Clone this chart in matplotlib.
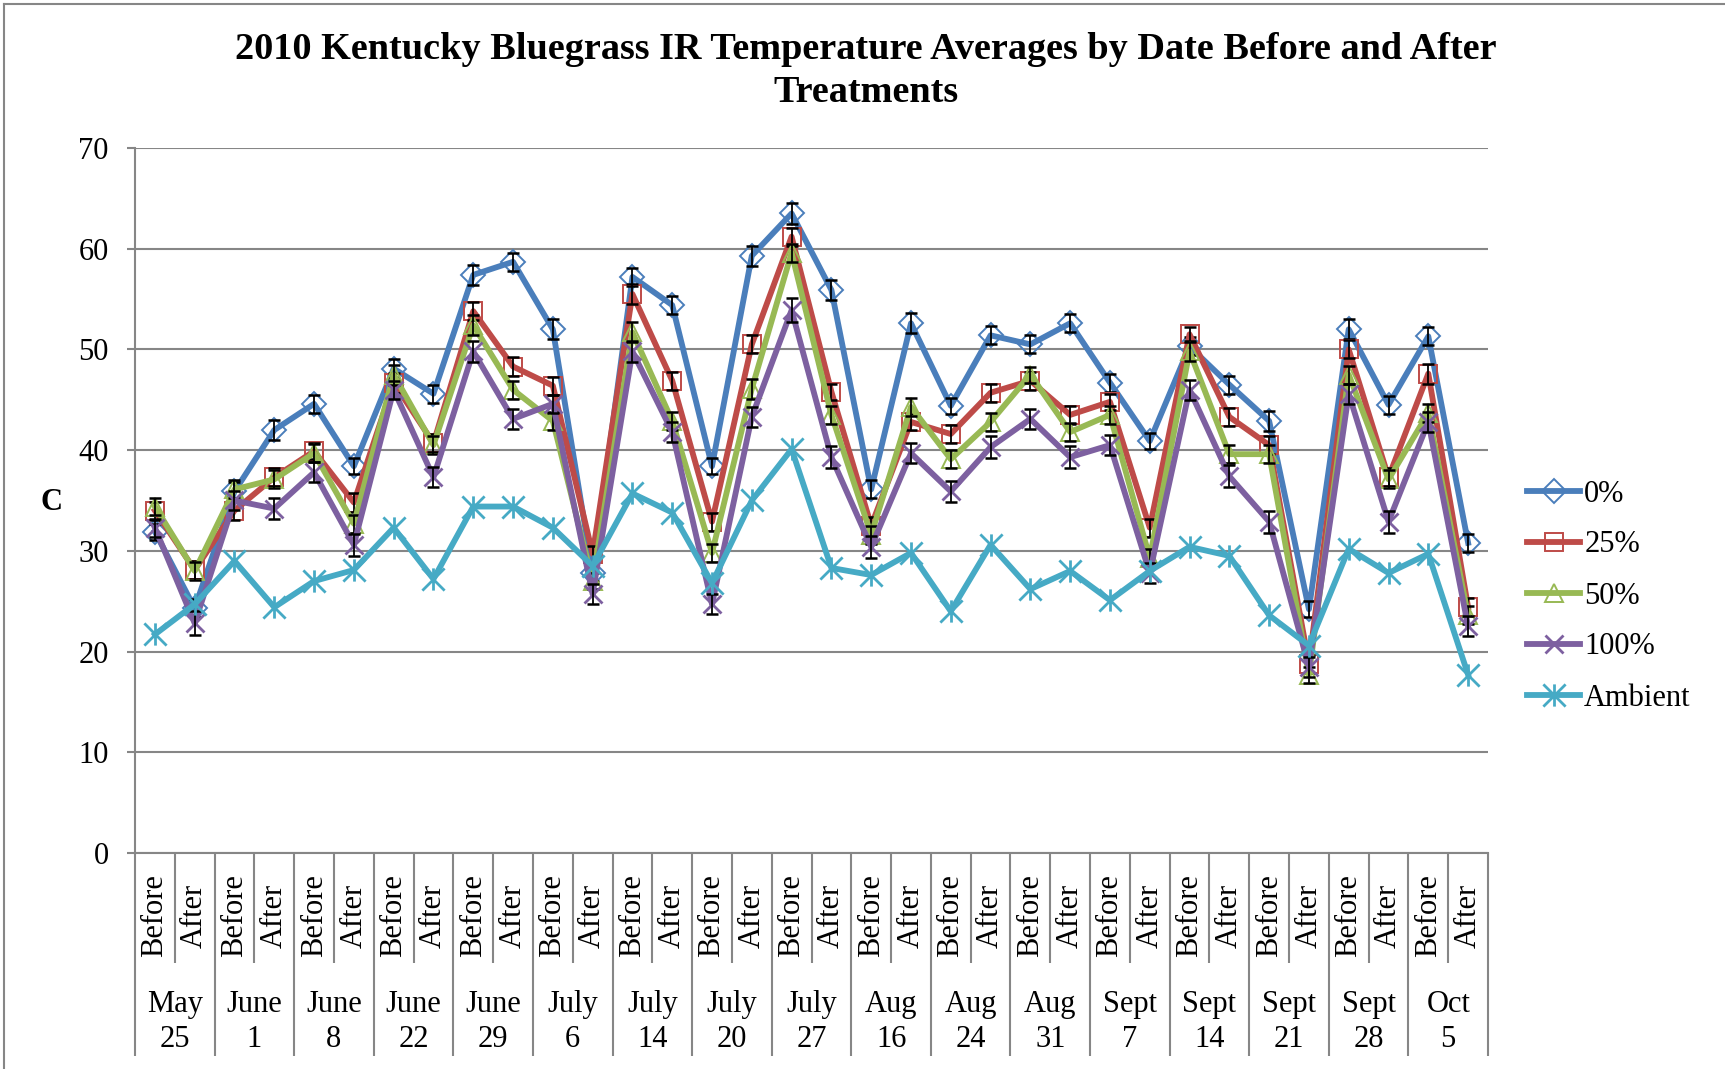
import numpy as np
import matplotlib
matplotlib.use("Agg")
import matplotlib.pyplot as plt
from matplotlib.path import Path
from matplotlib.lines import Line2D

plt.rcParams['font.family'] = ['Liberation Serif', 'DejaVu Serif']

dates = ["May\n25", "June\n1", "June\n8", "June\n22", "June\n29", "July\n6", "July\n14",
         "July\n20", "July\n27", "Aug\n16", "Aug\n24", "Aug\n31", "Sept\n7", "Sept\n14",
         "Sept\n21", "Sept\n28", "Oct\n5"]
phases = ["Before", "After"]

# IR canopy temperature (C), Before/After pairs per date
t0 = [31.9, 24.3, 35.9, 42.0, 44.6, 38.4, 48.1, 45.6, 57.4, 58.7, 52.0, 27.8,
      57.2, 54.4, 38.4, 59.3, 63.5, 55.9, 36.1, 52.6, 44.4, 51.4, 50.5, 52.6,
      46.7, 40.9, 50.3, 46.5, 42.9, 24.2, 52.0, 44.5, 51.3, 30.8]
t25 = [34.0, 28.1, 34.0, 37.3, 39.9, 34.8, 46.7, 40.7, 53.8, 48.3, 46.4, 29.7,
       55.5, 46.9, 32.9, 50.5, 61.2, 45.8, 32.5, 42.8, 41.6, 45.7, 46.9, 43.5,
       44.8, 32.3, 51.5, 43.3, 40.5, 18.8, 50.0, 37.3, 47.6, 24.4]
t50 = [34.4, 28.0, 36.1, 37.1, 39.7, 32.7, 47.5, 40.5, 52.4, 46.0, 42.9, 27.0,
       51.7, 42.9, 29.8, 46.1, 59.6, 43.5, 31.6, 44.3, 39.1, 42.8, 47.5, 41.8,
       43.5, 29.3, 49.8, 39.6, 39.6, 17.7, 47.5, 37.1, 43.7, 23.6]
t100 = [32.3, 22.8, 35.0, 34.2, 37.8, 30.6, 46.0, 37.3, 49.8, 43.1, 44.6, 25.7,
        49.8, 41.8, 24.7, 43.3, 53.9, 39.3, 30.4, 39.7, 35.9, 40.3, 43.1, 39.3,
        40.5, 27.8, 46.0, 37.4, 32.9, 18.5, 45.6, 32.9, 42.8, 22.5]
ambient = [21.7, 24.7, 29.0, 24.4, 27.0, 28.1, 32.3, 27.2, 34.4, 34.4, 32.3, 28.5,
           35.7, 33.8, 26.8, 35.0, 40.1, 28.3, 27.6, 29.8, 24.0, 30.6, 26.2, 28.0,
           25.1, 28.0, 30.4, 29.5, 23.6, 20.6, 30.2, 27.8, 29.7, 17.7]

# standard errors
e0 = [0.8, 0.9, 0.9, 1.0, 0.9, 0.8, 0.9, 0.9, 1.0, 0.9, 1.0, 0.8,
      0.9, 0.9, 0.8, 1.0, 1.0, 1.0, 0.9, 1.0, 0.8, 0.9, 0.9, 0.9,
      0.9, 0.8, 0.9, 0.9, 1.0, 0.8, 1.0, 0.9, 0.9, 0.9]
e25 = [0.9, 0.9, 0.9, 0.9, 0.8, 0.9, 1.0, 0.9, 0.9, 0.9, 0.9, 0.8,
       1.0, 0.9, 0.9, 0.9, 0.9, 0.8, 0.9, 0.8, 0.9, 0.9, 0.9, 0.9,
       0.8, 0.9, 0.7, 0.9, 0.9, 0.9, 0.9, 0.9, 1.0, 0.9]
e50 = [0.8, 0.9, 0.9, 0.9, 0.9, 0.9, 1.0, 0.9, 1.0, 0.9, 0.9, 0.8,
       1.0, 0.9, 0.9, 1.0, 0.9, 0.9, 0.9, 0.9, 0.9, 0.9, 0.8, 0.9,
       0.9, 0.9, 0.9, 0.9, 0.9, 0.8, 0.9, 0.9, 0.9, 0.9]
e100 = [0.9, 1.2, 0.9, 1.0, 1.0, 1.1, 0.9, 1.0, 1.0, 1.0, 0.9, 1.0,
        1.0, 1.0, 1.0, 1.0, 1.2, 1.1, 1.1, 1.0, 1.0, 1.1, 1.0, 1.1,
        1.0, 1.0, 1.0, 1.1, 1.1, 1.0, 1.0, 1.1, 1.0, 1.0]

labels = ["0%", "25%", "50%", "100%", "Ambient"]
colors = ["#4A7EBB", "#BE4B48", "#98B954", "#7D60A0", "#46AAC5"]

# asterisk marker: X plus a vertical stroke
star = Path([(0, -1), (0, 1), (-1, -1), (1, 1), (-1, 1), (1, -1)],
            [Path.MOVETO, Path.LINETO] * 3)
markers = ["D", "s", "^", "x", star]
msizes = [12, 13, 13, 13, 16]

grid_c = "#868686"
x = np.arange(len(t0))

fig = plt.figure(figsize=(17.25, 10.69), dpi=100)
ax = fig.add_axes([135/1725, 1 - 853/1069, (1488 - 135)/1725, (853 - 148)/1069])

series = [t0, t25, t50, t100, ambient]
errs = [e0, e25, e50, e100, None]
for k, (vals, err) in enumerate(zip(series, errs)):
    ax.plot(x, vals, color=colors[k], lw=4.2, marker=markers[k], ms=msizes[k],
            mfc="none", mec=colors[k], mew=1.4 if k < 3 else 2.0,
            label=labels[k], zorder=3 + k, clip_on=False)
    if err is not None:
        ax.errorbar(x, vals, yerr=err, fmt="none", ecolor="black", elinewidth=1.3,
                    capsize=4.5, capthick=1.8, zorder=3.5 + k)

ax.set_ylim(0, 70)
ax.set_xlim(-0.5, len(x) - 0.5)
ax.set_yticks(np.arange(0, 71, 10))
ax.yaxis.grid(True, color=grid_c, lw=1.5)
ax.set_axisbelow(True)
for s in ["top", "right"]:
    ax.spines[s].set_visible(False)
for s in ["left", "bottom"]:
    ax.spines[s].set_color(grid_c)
    ax.spines[s].set_linewidth(1.5)
ax.spines["left"].set_bounds(0, 70)
ax.tick_params(axis="y", length=6, width=1.5, color=grid_c, pad=13, labelsize=22)

# category separators: short between Before/After, long between dates
ax.set_xticks(np.arange(-0.5, len(x), 2))
ax.set_xticks(np.arange(0.5, len(x) - 1, 2), minor=True)
ax.tick_params(axis="x", which="major", length=146, width=1.5, color=grid_c, labelbottom=False)
ax.tick_params(axis="x", which="minor", length=79, width=1.5, color=grid_c, labelbottom=False)

trans = ax.get_xaxis_transform()
for i in x:
    ax.text(i, -0.089, phases[i % 2], rotation=90, ha="center", va="center",
            fontsize=22, transform=trans)
for j, d in enumerate(dates):
    ax.text(2 * j + 0.5, -0.24, d, ha="center", va="center", fontsize=22,
            linespacing=1.25, transform=trans)

fig.text(52/1725, 1 - 503/1069, "C", ha="center", va="center", fontsize=22, fontweight="bold")
fig.text(866/1725, 1 - 71/1069,
         "2010 Kentucky Bluegrass IR Temperature Averages by Date Before and After\nTreatments",
         ha="center", va="center", fontsize=27.5, fontweight="bold", linespacing=1.28)

ax.legend(loc="center left", bbox_to_anchor=(1527/1725, 1 - 596/1069),
          bbox_transform=fig.transFigure, frameon=False, fontsize=22, numpoints=1,
          handlelength=1.75, handletextpad=0.12, labelspacing=0.72, borderpad=0,
          borderaxespad=0)

# outer chart frame
fig.add_artist(Line2D([4/1725, 4/1725], [0, 1 - 4/1069], color=grid_c, lw=1.5))
fig.add_artist(Line2D([4/1725, 1], [1 - 4/1069, 1 - 4/1069], color=grid_c, lw=1.5))

fig.savefig("out.png", dpi=100)
